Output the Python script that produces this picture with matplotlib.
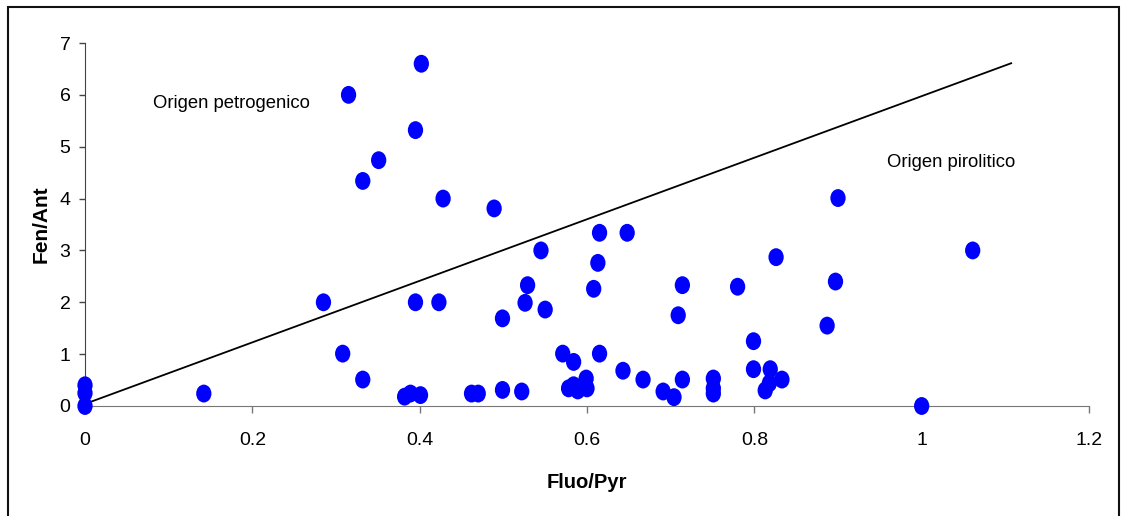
import matplotlib
matplotlib.use("Agg")
import matplotlib.pyplot as plt
from matplotlib.markers import MarkerStyle
from matplotlib.transforms import Affine2D
from matplotlib.patches import Rectangle

plt.rcParams['font.family'] = ['Liberation Sans', 'DejaVu Sans']

# Data (Fluo/Pyr vs Fen/Ant)
fluo_pyr = [0, 0, 0, 0.142, 0.285, 0.308, 0.332, 0.382, 0.389, 0.401,
            0.395, 0.423, 0.315, 0.402, 0.395, 0.351, 0.332, 0.428, 0.489, 0.545,
            0.615, 0.648, 0.613, 0.529, 0.526, 0.550, 0.499, 0.608, 0.714, 0.709,
            0.780, 0.826, 0.900, 0.897, 0.887, 0.799, 0.571, 0.584, 0.615, 0.643,
            0.667, 0.714, 0.751, 0.751, 0.751, 0.691, 0.704, 0.799, 0.819, 0.833,
            0.818, 0.813, 0.462, 0.470, 0.499, 0.522, 0.578, 0.584, 0.589, 0.599,
            0.600, 1.061, 1.0]
fen_ant = [0.40, 0.25, 0.0, 0.24, 2.0, 1.01, 0.51, 0.18, 0.24, 0.21,
           2.0, 2.0, 6.0, 6.6, 5.32, 4.74, 4.34, 4.0, 3.81, 3.0,
           3.34, 3.34, 2.76, 2.33, 1.99, 1.86, 1.69, 2.26, 2.33, 1.75,
           2.30, 2.87, 4.01, 2.40, 1.55, 1.25, 1.01, 0.85, 1.01, 0.68,
           0.51, 0.51, 0.53, 0.34, 0.24, 0.28, 0.17, 0.71, 0.71, 0.51,
           0.44, 0.30, 0.24, 0.24, 0.31, 0.28, 0.34, 0.40, 0.30, 0.53,
           0.34, 3.0, 0.0]

line_x = [0, 1.107]
line_y = [0.04, 6.61]

x_ticks = [0, 0.2, 0.4, 0.6, 0.8, 1.0, 1.2]
x_tick_labels = ["0", "0.2", "0.4", "0.6", "0.8", "1", "1.2"]
y_ticks = [0, 1, 2, 3, 4, 5, 6, 7]

fig = plt.figure(figsize=(11.21, 5.16), dpi=100)
ax = fig.add_axes([85/1121, 1-406/516, (1089-85)/1121, (406-43)/516])

ax.plot(line_x, line_y, color='black', lw=1.3, zorder=2)

marker = MarkerStyle('o', transform=Affine2D().scale(1.0, 1.17))
ax.scatter(fluo_pyr, fen_ant, s=11.0**2, marker=marker, color='#0000FF',
           edgecolors='none', zorder=3, clip_on=False)

ax.set_xlim(0, 1.2)
ax.set_ylim(0, 7)
ax.set_xticks(x_ticks)
ax.set_xticklabels(x_tick_labels)
ax.set_yticks(y_ticks)

for s in ['top', 'right']:
    ax.spines[s].set_visible(False)
ax.spines['left'].set_color('#444444')
ax.spines['bottom'].set_color('#777777')
ax.tick_params(axis='x', direction='out', length=5, width=1, color='#777777',
               labelsize=14, pad=14)
ax.tick_params(axis='y', direction='out', length=4.5, width=1, color='#444444',
               labelsize=14, pad=6)

ax.set_xlabel("Fluo/Pyr", fontsize=14.5, fontweight='bold', labelpad=17)
ax.set_ylabel("Fen/Ant", fontsize=15, fontweight='bold', labelpad=6)

ax.text(0.081, 5.84, "Origen petrogenico", fontsize=13.3, ha='left', va='center')
ax.text(0.958, 4.70, "Origen pirolitico", fontsize=13.3, ha='left', va='center')

fig.add_artist(Rectangle((8/1121, -0.02), (1119-8)/1121, (516-7)/516 + 0.02,
                         transform=fig.transFigure, fill=False,
                         edgecolor='#111111', lw=1.5))

fig.savefig("out.png", dpi=100)
